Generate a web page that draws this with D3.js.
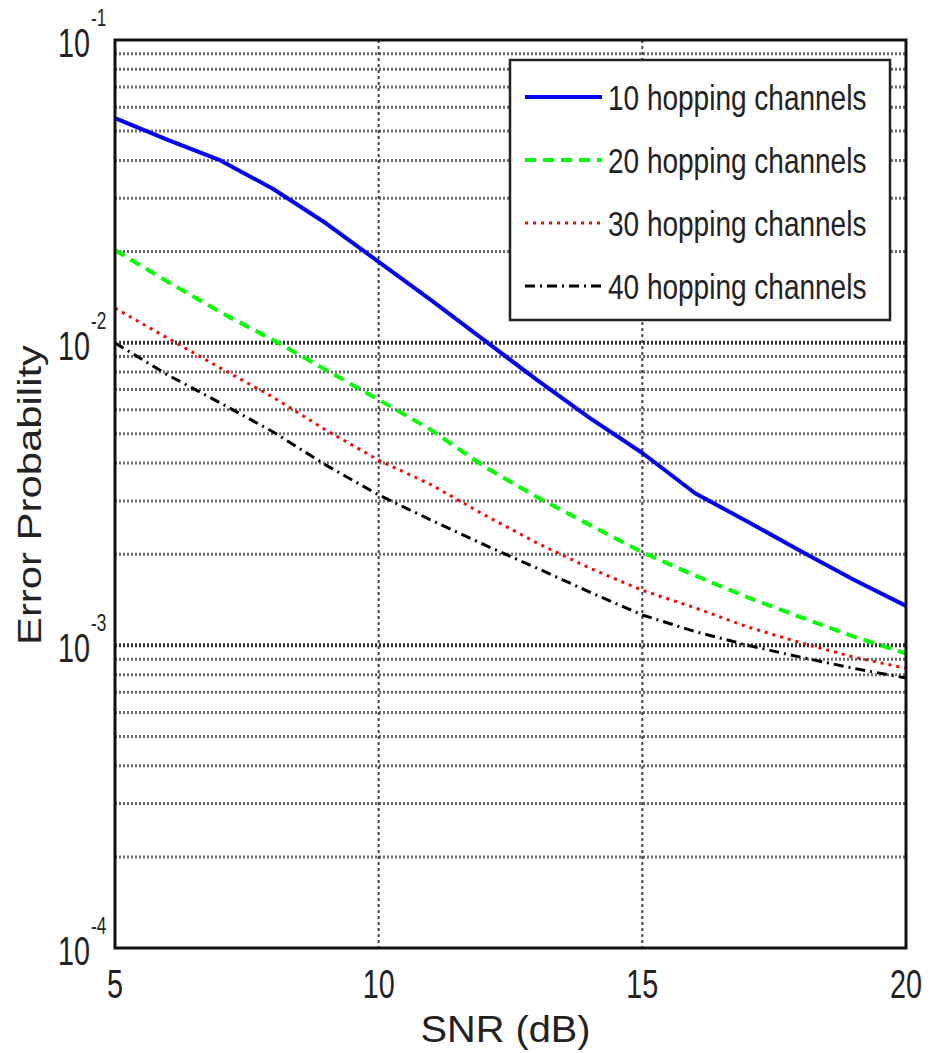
<!DOCTYPE html>
<html>
<head>
<meta charset="utf-8">
<script src="https://cdn.jsdelivr.net/npm/d3@7"></script>
<style>
  body { margin: 0; background: #fff; }
  text { font-family: "Liberation Sans", Arial, sans-serif; fill: #222; }
</style>
</head>
<body>
<div id="chart"></div>
<script>
// SNR values (dB)
const snr = [5, 6, 7, 8, 9, 10, 11, 12, 13, 14, 15, 16, 17, 18, 19, 20];

// error probability
const ch10 = [0.0552, 0.0468, 0.0400, 0.0322, 0.0248, 0.0185, 0.0138, 0.0102, 0.00753, 0.00564, 0.00432, 0.00318, 0.00256, 0.00205, 0.00165, 0.00135];
const ch20 = [0.0202, 0.0159, 0.0126, 0.0102, 0.00813, 0.00648, 0.00514, 0.00390, 0.00309, 0.00250, 0.00203, 0.00170, 0.00144, 0.00124, 0.00107, 0.00094];
const ch30 = [0.0130, 0.01035, 0.00824, 0.00660, 0.00514, 0.00409, 0.00339, 0.00270, 0.00218, 0.00180, 0.00152, 0.00133, 0.00115, 0.00102, 0.000915, 0.00084];
const ch40 = [0.00998, 0.00782, 0.00632, 0.00507, 0.00394, 0.00314, 0.00259, 0.00215, 0.00180, 0.00150, 0.00126, 0.00111, 0.00100, 0.000914, 0.00084, 0.00078];

const seriesNames = ["10 hopping channels", "20 hopping channels", "30 hopping channels", "40 hopping channels"];
const xTicks = [5, 10, 15, 20];
const yExps = [-1, -2, -3, -4];

// set the dimensions of the plot box
var margin = {top: 40, right: 32, bottom: 105, left: 115},
    width = 938 - margin.left - margin.right,
    height = 1053 - margin.top - margin.bottom;

var x = d3.scaleLinear().domain([5, 20]).range([0, width]);
var y = d3.scaleLog().domain([1e-4, 1e-1]).range([height, 0]);

var svg = d3.select("#chart").append("svg")
    .attr("width", 938)
    .attr("height", 1053)
  .append("g")
    .attr("transform", "translate(" + margin.left + "," + margin.top + ")");

// squeezed text, the original font is narrow
function label(g, px, py, str, size, anchor, sx) {
  return g.append("text")
    .attr("transform", "translate(" + px + "," + py + ") scale(" + sx + ",1)")
    .attr("text-anchor", anchor)
    .style("font-size", size + "px")
    .text(str);
}

// horizontal grid: every minor tick of the log scale
var yGrid = [];
for (let e = -4; e < -1 + 0.5; e++) {
  for (let m = 1; m <= 9; m++) {
    let v = m * Math.pow(10, e);
    if (v > 1e-4 && v < 1e-1) yGrid.push(v);
  }
}

svg.append("g").selectAll("line")
  .data(yGrid)
  .enter().append("line")
    .attr("x1", 0)
    .attr("x2", width)
    .attr("y1", d => y(d))
    .attr("y2", d => y(d))
    .attr("stroke", d => (Math.abs(Math.log10(d) % 1) < 1e-6 ? "#333" : "#6a6a6a"))
    .attr("stroke-width", d => (Math.abs(Math.log10(d) % 1) < 1e-6 ? 4 : 3))
    .attr("stroke-dasharray", "2,2");

// vertical grid
svg.append("g").selectAll("line")
  .data(xTicks.slice(1, -1))
  .enter().append("line")
    .attr("x1", d => x(d))
    .attr("x2", d => x(d))
    .attr("y1", 0)
    .attr("y2", height)
    .attr("stroke", "#444")
    .attr("stroke-width", 2)
    .attr("stroke-dasharray", "3,3");

// the curves
var line = d3.line()
    .x((d, i) => x(snr[i]))
    .y(d => y(d));

var styles = [
  {color: "#0000ff", w: 4, dash: null},
  {color: "#00ff00", w: 4, dash: "11,7"},
  {color: "#ff0000", w: 3, dash: "3,5"},
  {color: "#000000", w: 3, dash: "10,5,2,5"}
];
var allSeries = [ch10, ch20, ch30, ch40];

allSeries.forEach(function(s, i) {
  svg.append("path")
    .datum(s)
    .attr("fill", "none")
    .attr("stroke", styles[i].color)
    .attr("stroke-width", styles[i].w)
    .attr("stroke-linejoin", "round")
    .attr("stroke-dasharray", styles[i].dash)
    .attr("d", line);
});

// frame
svg.append("rect")
  .attr("x", 0).attr("y", 0)
  .attr("width", width).attr("height", height)
  .attr("fill", "none")
  .attr("stroke", "#111")
  .attr("stroke-width", 3);

// x tick labels
xTicks.forEach(function(t) {
  label(svg, x(t), height + 50, t, 40, "middle", 0.72);
});

// y tick labels 10^e
yExps.forEach(function(e) {
  var py = y(Math.pow(10, e));
  label(svg, -25, py + 17, "10", 40, "end", 0.72);
  label(svg, -24, py - 14, String(e), 24, "start", 0.72);
});

// axis titles
svg.append("text")
  .attr("x", width / 2 - 5)
  .attr("y", height + 94)
  .attr("text-anchor", "middle")
  .attr("textLength", 170)
  .attr("lengthAdjust", "spacingAndGlyphs")
  .style("font-size", "36px")
  .text("SNR (dB)");

svg.append("text")
  .attr("transform", "translate(-74," + (height / 2 + 1) + ") rotate(-90)")
  .attr("text-anchor", "middle")
  .attr("textLength", 300)
  .attr("lengthAdjust", "spacingAndGlyphs")
  .style("font-size", "33px")
  .text("Error Probability");

// legend
var lg = svg.append("g").attr("transform", "translate(395,20)");
lg.append("rect")
  .attr("width", 380).attr("height", 260)
  .attr("fill", "#fff")
  .attr("stroke", "#222")
  .attr("stroke-width", 2.5);

seriesNames.forEach(function(n, i) {
  var ry = 37 + i * 63;
  lg.append("line")
    .attr("x1", 15).attr("x2", 92)
    .attr("y1", ry).attr("y2", ry)
    .attr("stroke", styles[i].color)
    .attr("stroke-width", styles[i].w)
    .attr("stroke-dasharray", styles[i].dash);
  label(lg, 98, ry + 13, n, 35, "start", 0.8);
});
</script>
</body>
</html>
